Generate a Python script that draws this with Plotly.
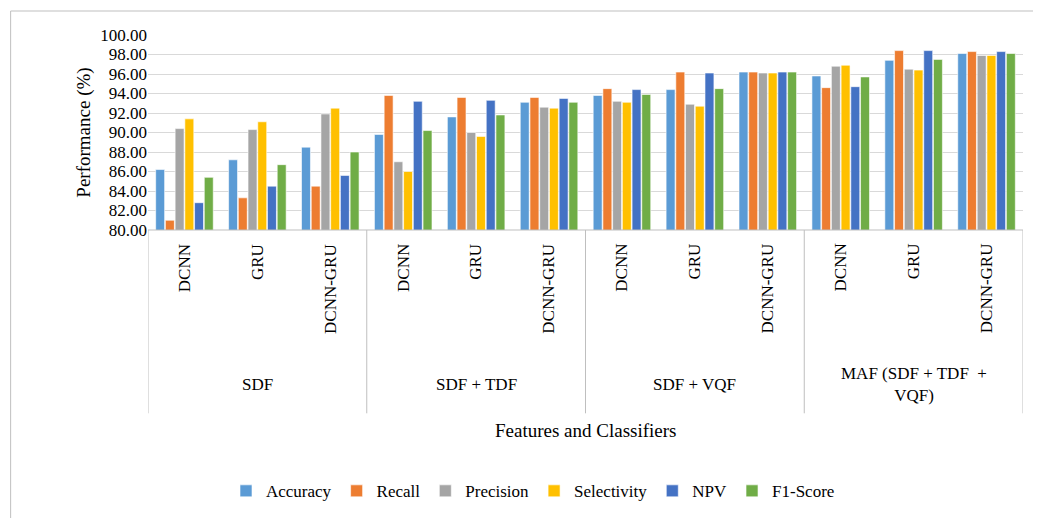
import plotly.graph_objects as go

features = ["SDF", "SDF + TDF", "SDF + VQF", "MAF (SDF + TDF  +<br>VQF)"]
classifiers = ["DCNN", "GRU", "DCNN-GRU"]
metrics = ["Accuracy", "Recall", "Precision", "Selectivity", "NPV", "F1-Score"]
colors = ["#5B9BD5", "#ED7D31", "#A5A5A5", "#FFC000", "#4472C4", "#70AD47"]

# rows: feature/classifier combos, cols: metrics
values = [
    [86.2, 81.0, 90.4, 91.4, 82.8, 85.4],
    [87.2, 83.3, 90.3, 91.1, 84.5, 86.7],
    [88.5, 84.5, 91.9, 92.5, 85.6, 88.0],
    [89.8, 93.8, 87.0, 86.0, 93.2, 90.2],
    [91.6, 93.6, 90.0, 89.6, 93.3, 91.8],
    [93.1, 93.6, 92.6, 92.5, 93.5, 93.1],
    [93.8, 94.5, 93.2, 93.1, 94.4, 93.9],
    [94.4, 96.2, 92.9, 92.7, 96.1, 94.5],
    [96.2, 96.2, 96.1, 96.1, 96.2, 96.2],
    [95.8, 94.6, 96.8, 96.9, 94.7, 95.7],
    [97.4, 98.4, 96.5, 96.4, 98.4, 97.5],
    [98.1, 98.3, 97.9, 97.9, 98.3, 98.1],
]

FONT = "Liberation Serif"
xpos = list(range(len(values)))

fig = go.Figure()
for j, m in enumerate(metrics):
    fig.add_trace(go.Bar(
        x=xpos, y=[row[j] for row in values], name=m,
        marker=dict(color=colors[j], line=dict(color="white", width=0.6)),
    ))

annotations = []
shapes = []
for i in xpos:
    annotations.append(dict(
        x=i, y=-0.06, xref="x", yref="paper", text=classifiers[i % 3],
        textangle=-90, showarrow=False, yanchor="top",
        font=dict(family=FONT, size=17, color="black"),
    ))
for g, f in enumerate(features):
    annotations.append(dict(
        x=g * 3 + 1, y=-0.79, xref="x", yref="paper", text=f,
        showarrow=False, yanchor="middle",
        font=dict(family=FONT, size=17, color="black"),
    ))
for b in [-0.5, 2.5, 5.5, 8.5, 11.5]:
    shapes.append(dict(type="line", xref="x", yref="paper", x0=b, x1=b,
                       y0=0, y1=-0.94, line=dict(color="#BFBFBF", width=1)))
shapes.append(dict(type="line", xref="x", yref="paper", x0=-0.5, x1=11.5,
                   y0=0, y1=0, line=dict(color="#BFBFBF", width=1)))
shapes.append(dict(type="rect", xref="paper", yref="paper", x0=-0.157, x1=1.025,
                   y0=-1.49, y1=1.123, line=dict(color="#BFBFBF", width=1)))
annotations.append(dict(
    x=0.5, y=-1.03, xref="paper", yref="paper", text="Features and Classifiers",
    showarrow=False, yanchor="middle", font=dict(family=FONT, size=19, color="black"),
))

fig.update_layout(
    width=1041, height=518,
    margin=dict(l=140, r=26, t=27, b=296, autoexpand=False),
    paper_bgcolor="white", plot_bgcolor="white",
    barmode="group", bargap=0.2, bargroupgap=0.08,
    font=dict(family=FONT, size=17, color="black"),
    xaxis=dict(range=[-0.5, 11.5], showticklabels=False, showgrid=False,
               zeroline=False, tickvals=[]),
    yaxis=dict(range=[80, 100], dtick=2, tickformat=".2f", showgrid=True,
               gridcolor="#D9D9D9", zeroline=False, ticklen=0,
               title=dict(text="Performance (%)", font=dict(family=FONT, size=19),
                          standoff=4)),
    legend=dict(orientation="h", x=0.44, xanchor="center", y=-1.34, yanchor="middle",
                font=dict(family=FONT, size=17), itemwidth=30, tracegroupgap=0),
    annotations=annotations, shapes=shapes,
)

fig.write_html("out.html")
